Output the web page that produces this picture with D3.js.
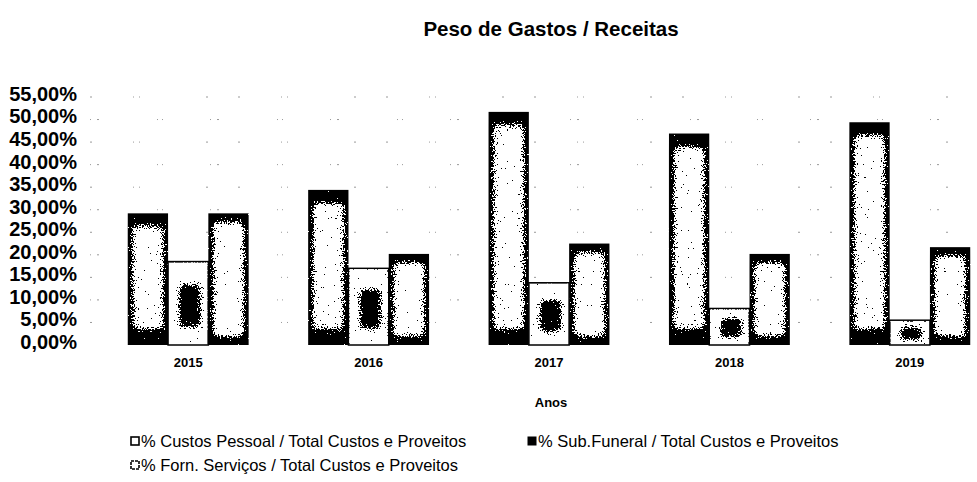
<!DOCTYPE html>
<html>

<head>
    <meta charset="utf-8">
    <style>
        body {
            margin: 0;
            background: white;
        }

        svg {
            display: block;
            font-family: 'Liberation Sans', Arial, sans-serif;
        }
    </style>
</head>

<body>
    <svg width="977" height="482"></svg>
</body>

<script src="https://d3js.org/d3.v7.min.js"></script>

<script>
    // values (shares of revenue)
    let years = ["2015", "2016", "2017", "2018", "2019"]
    let seriesNames = [
        "% Custos Pessoal / Total Custos e Proveitos",
        "% Sub.Funeral / Total Custos e Proveitos",
        "% Forn. Serviços / Total Custos e Proveitos"
    ]
    let custosPessoal = [0.292, 0.344, 0.517, 0.469, 0.494]
    let subFuneral = [0.185, 0.170, 0.138, 0.081, 0.055]
    let fornServicos = [0.292, 0.202, 0.225, 0.202, 0.217]
    let yTicks = [0, 0.05, 0.10, 0.15, 0.20, 0.25, 0.30, 0.35, 0.40, 0.45, 0.50, 0.55]

    let width = 977
    let height = 482

    let svg = d3.select("svg")

    let defs = svg.append("defs")

    // blur used to fade the light centre of the bars into the dark edges
    defs.append("filter")
        .attr("id", "soft")
        .attr("x", "-50%").attr("y", "-50%")
        .attr("width", "200%").attr("height", "200%")
        .append("feGaussianBlur")
        .attr("stdDeviation", 3)

    defs.append("filter")
        .attr("id", "soft2")
        .attr("x", "-50%").attr("y", "-50%")
        .attr("width", "200%").attr("height", "200%")
        .append("feGaussianBlur")
        .attr("stdDeviation", 3)

    // photocopy look: noise then hard threshold to black / white
    let scan = defs.append("filter")
        .attr("id", "scan")
        .attr("color-interpolation-filters", "sRGB")
        .attr("x", "0").attr("y", "0")
        .attr("width", "1").attr("height", "1")
    scan.append("feTurbulence")
        .attr("type", "fractalNoise")
        .attr("baseFrequency", 0.7)
        .attr("numOctaves", 2)
        .attr("seed", 7)
        .attr("result", "noise")
    scan.append("feColorMatrix")
        .attr("in", "noise")
        .attr("type", "matrix")
        .attr("values", "1 0 0 0 0  1 0 0 0 0  1 0 0 0 0  0 0 0 0 1")
        .attr("result", "gnoise")
    scan.append("feComposite")
        .attr("in", "SourceGraphic")
        .attr("in2", "gnoise")
        .attr("operator", "arithmetic")
        .attr("k1", 0).attr("k2", 1).attr("k3", 1.7).attr("k4", -0.85)
        .attr("result", "mix")
    let ct = scan.append("feComponentTransfer")
        .attr("in", "mix")
        .attr("result", "bw")
    ct.append("feFuncR").attr("type", "discrete").attr("tableValues", "0 1")
    ct.append("feFuncG").attr("type", "discrete").attr("tableValues", "0 1")
    ct.append("feFuncB").attr("type", "discrete").attr("tableValues", "0 1")
    scan.append("feComposite")
        .attr("in", "bw")
        .attr("in2", "SourceAlpha")
        .attr("operator", "in")

    let y = d3.scaleLinear()
        .domain([0, 0.55])
        .range([345, 97])

    let x = d3.scaleBand()
        .domain(years)
        .range([98, 1000])
        .paddingInner(0.33)
        .paddingOuter(0.165)

    let xInner = d3.scaleBand()
        .domain(seriesNames)
        .range([0, x.bandwidth()])

    // title
    svg.append("text")
        .attr("x", 551)
        .attr("y", 28)
        .attr("text-anchor", "middle")
        .attr("dominant-baseline", "central")
        .style("font-size", "20.5px")
        .style("font-weight", "bold")
        .text("Peso de Gastos / Receitas")

    // faint gridlines, mostly lost in the scan
    svg.append("g")
        .selectAll("line")
        .data(yTicks.slice(1))
        .join("line")
        .attr("x1", 90)
        .attr("x2", width)
        .attr("y1", d => y(d))
        .attr("y2", d => y(d))
        .style("stroke", "#999")
        .style("stroke-width", 1)
        .style("stroke-dasharray", (d, i) => i % 2 ? "1,6,2,58,1,4,1,47" : "2,41,1,5,1,66,2,30")

    // y axis labels
    let yAxis = d3.axisLeft(y)
        .tickValues(yTicks)
        .tickSize(0)
        .tickPadding(0)
        .tickFormat(d => d3.format(".2f")(d * 100).replace(".", ",") + "%")

    let yG = svg.append("g")
        .attr("transform", "translate(77,-3)")
        .call(yAxis)
    yG.select(".domain").remove()
    yG.selectAll("text")
        .style("font-family", "'Liberation Sans', Arial, sans-serif")
        .style("font-size", "20px")
        .style("font-weight", "bold")
        .style("fill", "#000")

    // x axis labels
    let xAxis = d3.axisBottom(x)
        .tickSize(0)
        .tickPadding(0)

    let xG = svg.append("g")
        .attr("transform", "translate(0,358)")
        .call(xAxis)
    xG.select(".domain").remove()
    xG.selectAll("text")
        .style("font-family", "'Liberation Sans', Arial, sans-serif")
        .style("font-size", "13px")
        .style("font-weight", "bold")
        .style("fill", "#000")

    svg.append("text")
        .attr("x", 551)
        .attr("y", 402)
        .attr("text-anchor", "middle")
        .attr("dominant-baseline", "central")
        .style("font-size", "13px")
        .style("font-weight", "bold")
        .text("Anos")

    // rows for drawing
    let rows = years.map((yr, i) => ({
        year: yr,
        values: [custosPessoal[i], subFuneral[i], fornServicos[i]]
    }))

    let bars = []
    rows.forEach(r => {
        r.values.forEach((v, j) => {
            bars.push({ year: r.year, series: seriesNames[j], idx: j, value: v })
        })
    })

    let barG = svg.append("g")

    // outer bars: dark edges fading into a light centre
    let outer = barG.selectAll(".outer")
        .data(bars.filter(d => d.idx != 1))
        .join("g")
        .attr("class", "outer")
        .attr("filter", "url(#scan)")

    outer.append("rect")
        .attr("x", d => x(d.year) + xInner(d.series))
        .attr("y", d => y(d.value))
        .attr("width", xInner.bandwidth())
        .attr("height", d => y(0) - y(d.value))
        .style("fill", "#000")

    outer.append("rect")
        .attr("x", d => x(d.year) + xInner(d.series) + 5)
        .attr("y", d => y(d.value) + (d.idx == 0 ? 13 : 9))
        .attr("width", xInner.bandwidth() - 10)
        .attr("height", d => Math.max(0, y(0) - y(d.value) - (d.idx == 0 ? 29 : 18)))
        .style("fill", d => d.idx == 0 ? "#f2f2f2" : "#fbfbfb")
        .attr("filter", "url(#soft)")

    // middle bars: white with thin outline and a dark smudge
    let mid = barG.selectAll(".mid")
        .data(bars.filter(d => d.idx == 1))
        .join("g")
        .attr("class", "mid")

    mid.append("rect")
        .attr("x", d => x(d.year) + xInner(d.series))
        .attr("y", d => y(d.value))
        .attr("width", xInner.bandwidth())
        .attr("height", d => y(0) - y(d.value))
        .style("fill", "#fff")
        .style("stroke", "#000")
        .style("stroke-width", 1.5)

    let blob = mid.append("g")
        .attr("filter", "url(#scan)")
    blob.append("rect")
        .attr("x", d => x(d.year) + xInner(d.series) + 1)
        .attr("y", d => y(d.value) + 1)
        .attr("width", xInner.bandwidth() - 2)
        .attr("height", d => y(0) - y(d.value) - 2)
        .style("fill", "#fff")
    blob.append("rect")
        .attr("x", d => x(d.year) + xInner(d.series) + xInner.bandwidth() * 0.28)
        .attr("y", d => y(d.value) + (y(0) - y(d.value)) * 0.28)
        .attr("width", xInner.bandwidth() * 0.52)
        .attr("height", d => (y(0) - y(d.value)) * 0.5)
        .style("fill", "#000")
        .attr("filter", "url(#soft2)")

    // legend
    let legendPos = [[131, 441], [528, 441], [131, 465]]

    let legend = svg.append("g")
        .selectAll(".legend")
        .data(seriesNames)
        .join("g")
        .attr("class", "legend")
        .attr("transform", (d, i) => "translate(" + legendPos[i][0] + "," + legendPos[i][1] + ")")

    legend.append("rect")
        .attr("x", 0)
        .attr("y", -4)
        .attr("width", 8)
        .attr("height", 8)
        .style("fill", (d, i) => i == 1 ? "#000" : "#fff")
        .style("stroke", "#000")
        .style("stroke-width", (d, i) => i == 1 ? 1 : 1.6)
        .style("stroke-dasharray", (d, i) => i == 2 ? "3,1" : null)

    legend.append("text")
        .attr("x", 10)
        .attr("y", 0)
        .attr("dominant-baseline", "central")
        .style("font-size", "16.5px")
        .text(d => d)
</script>

</html>
